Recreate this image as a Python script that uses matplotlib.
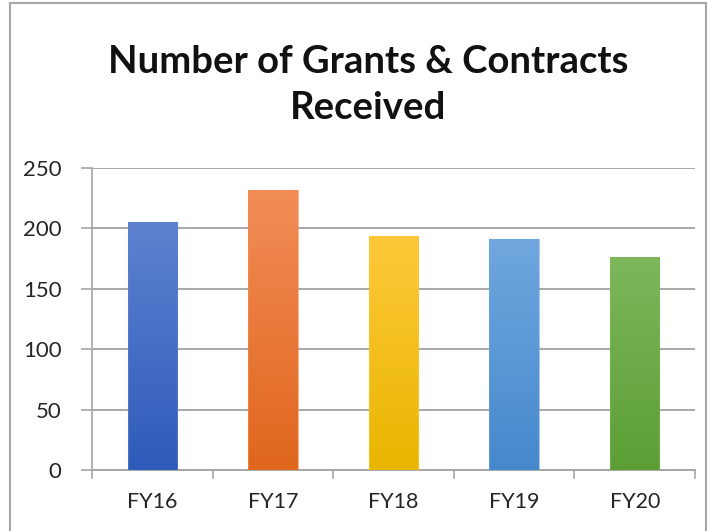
import matplotlib
matplotlib.use("Agg")
import matplotlib.pyplot as plt
import numpy as np
from matplotlib.colors import LinearSegmentedColormap
from matplotlib.patches import Rectangle

categories = ["FY16", "FY17", "FY18", "FY19", "FY20"]
values = [205, 232, 194, 191, 176]
top_colors = ["#5E82D0", "#F28D58", "#FFC83A", "#70A7DE", "#7DB75A"]
bottom_colors = ["#2E5BBA", "#E0661C", "#E8B600", "#4589CC", "#5C9E35"]
y_ticks = [0, 50, 100, 150, 200, 250]
title = "Number of Grants & Contracts\nReceived"

W, H = 712, 531
fig = plt.figure(figsize=(W / 100, H / 100), dpi=100)
ax = fig.add_axes([92 / W, 1 - 470 / H, (695 - 92) / W, (470 - 168) / H])

x = np.arange(len(categories))
bw = 0.41
bars = ax.bar(x, values, width=bw, color="none", edgecolor="none", zorder=3)
for b, tc, bc in zip(bars, top_colors, bottom_colors):
    cmap = LinearSegmentedColormap.from_list("g", [bc, tc])
    grad = np.linspace(0, 1, 256).reshape(-1, 1)
    x0, y0 = b.get_x(), b.get_y()
    w, h = b.get_width(), b.get_height()
    im = ax.imshow(grad, cmap=cmap, aspect="auto", origin="lower",
                   extent=[x0, x0 + w, y0, y0 + h], zorder=3)
    clip = Rectangle((x0, y0), w, h, transform=ax.transData, facecolor="none", edgecolor="none")
    ax.add_patch(clip)
    im.set_clip_path(clip)
    ax.add_patch(Rectangle((x0, y0), w, h, facecolor="none", edgecolor=tc, lw=0.8, alpha=0.6, zorder=4))

ax.set_xlim(-0.5, len(categories) - 0.5)
ax.set_ylim(0, 250)
ax.set_yticks(y_ticks)
ax.set_yticklabels([str(t) for t in y_ticks], fontsize=16, color="#262626", family="Lato")
ax.yaxis.grid(True, color="#A8A8A8", lw=1.4, zorder=0)
ax.set_axisbelow(True)
ax.tick_params(axis="y", length=8, width=1.2, color="#A6A6A6", pad=14)

ax.set_xticks(x)
ax.set_xticklabels(categories, fontsize=15.5, color="#262626", family="Lato")
ax.tick_params(axis="x", length=0, pad=16)
for xb in np.arange(-0.5, len(categories), 1.0):
    ax.plot([xb, xb], [0, -0.025], transform=ax.get_xaxis_transform(), color="#A6A6A6",
            lw=1.2, clip_on=False)

for s in ["top", "right"]:
    ax.spines[s].set_visible(False)
ax.spines["left"].set_color("#A6A6A6")
ax.spines["left"].set_linewidth(1.2)
ax.spines["bottom"].set_color("#A6A6A6")
ax.spines["bottom"].set_linewidth(1.4)

fig.text(368 / W, 1 - 85 / H, title, ha="center", va="center", fontsize=27.5,
         fontweight="bold", family="Lato", color="#111111", linespacing=1.42)

fig.patches.append(Rectangle((10 / W, -0.1), (706 - 10) / W, 1.1 - 3 / H,
                             transform=fig.transFigure, facecolor="none",
                             edgecolor="#A6A6A6", lw=1.5))

fig.savefig("out.png", dpi=100)
